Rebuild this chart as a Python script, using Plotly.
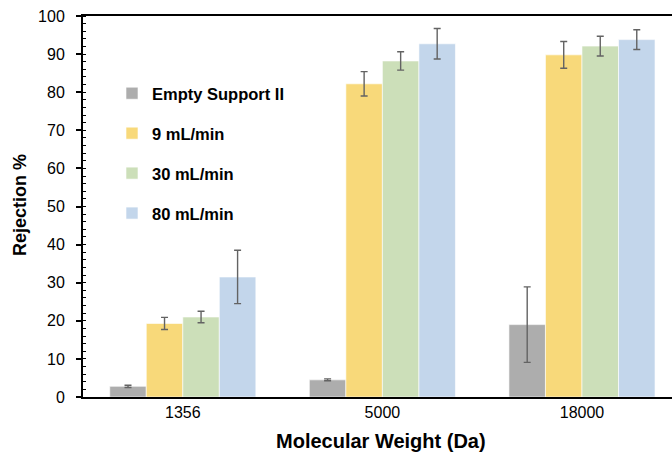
import plotly.graph_objects as go

categories = ["1356", "5000", "18000"]
series_names = ["Empty Support II", "9 mL/min", "30 mL/min", "80 mL/min"]
empty_support = [2.8, 4.5, 19.0]
empty_err = [0.3, 0.25, 9.9]
flow_9 = [19.3, 82.2, 89.8]
flow_9_err = [1.6, 3.2, 3.5]
flow_30 = [21.0, 88.2, 92.1]
flow_30_err = [1.5, 2.4, 2.6]
flow_80 = [31.5, 92.7, 93.8]
flow_80_err = [7.0, 4.0, 2.6]
colors = ["#ADADAD", "#F8D97A", "#CCDFB9", "#C3D6EB"]
y_ticks = [0, 10, 20, 30, 40, 50, 60, 70, 80, 90, 100]

values = [empty_support, flow_9, flow_30, flow_80]
errors = [empty_err, flow_9_err, flow_30_err, flow_80_err]

fig = go.Figure()
for i, (name, v, e, c) in enumerate(zip(series_names, values, errors, colors)):
    fig.add_trace(go.Bar(
        x=[0, 1, 2], y=v, name=name, legendgroup=f"g{i}",
        marker=dict(color=c, line=dict(color="rgba(255,255,255,0.6)", width=1)),
        error_y=dict(type="data", array=e, visible=True, color="#636363",
                     thickness=1.4, width=3.5),
    ))

font_family = "Liberation Sans, Arial, sans-serif"
L, R, T, B = 83, 0, 16, 67
W, H = 672, 464
pw = W - L - R
ph = H - T - B

fig.update_layout(
    width=W, height=H,
    margin=dict(l=L, r=R, t=T, b=B, autoexpand=False),
    paper_bgcolor="white", plot_bgcolor="white",
    barmode="group", bargap=0.268, bargroupgap=0,
    font=dict(family=font_family, color="#000000"),
    showlegend=True,
    legend=dict(x=(112 - L) / pw, y=1 - (76 - T) / ph, xanchor="left", yanchor="top",
                bgcolor="rgba(0,0,0,0)", tracegroupgap=15.5,
                font=dict(size=16.5, family=font_family, weight="bold"),
                itemwidth=30),
    xaxis=dict(
        tickmode="array", tickvals=[0, 1, 2], ticktext=categories,
        range=[-0.5, 2.451], showgrid=False, zeroline=False, automargin=False,
        showline=True, linecolor="#000000", linewidth=2, mirror=True,
        ticks="", tickfont=dict(size=16, color="#000000"),
    ),
    yaxis=dict(
        range=[0, 100], tickvals=y_ticks, showgrid=False, zeroline=False, automargin=False,
        showline=True, linecolor="#000000", linewidth=2,
        ticks="outside", ticklen=5, tickwidth=1.5, tickcolor="#000000",
        ticklabelstandoff=8,
        minor=dict(ticks="inside", dtick=2, ticklen=3, tickwidth=1, tickcolor="#000000"),
        tickfont=dict(size=16, color="#000000"),
    ),
    annotations=[
        dict(text="<b>Molecular Weight (Da)</b>", xref="paper", yref="paper",
             x=(381 - L) / pw, y=-(441 - (H - B)) / ph, xanchor="center", yanchor="middle",
             showarrow=False, font=dict(size=20, family=font_family)),
        dict(text="<b>Rejection %</b>", xref="paper", yref="paper",
             x=-(L - 20) / pw, y=1 - (205 - T) / ph, xanchor="center", yanchor="middle",
             textangle=-90, showarrow=False, font=dict(size=18, family=font_family)),
    ],
)

fig.write_html("out.html", config={"displayModeBar": False},
               post_script="document.body.style.margin='0';document.body.style.padding='0';")
